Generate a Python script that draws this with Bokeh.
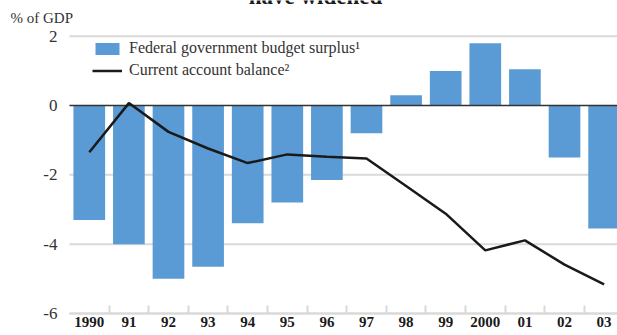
from bokeh.plotting import figure
from bokeh.models import Range1d, FixedTicker, Label, Legend, LegendItem
from bokeh.embed import file_html
from bokeh.resources import INLINE

years = ["1990", "91", "92", "93", "94", "95", "96", "97", "98", "99", "2000", "01", "02", "03"]
budget_surplus = [-3.3, -4.0, -5.0, -4.65, -3.4, -2.8, -2.15, -0.8, 0.3, 1.0, 1.8, 1.05, -1.5, -3.55]
current_account = [-1.35, 0.07, -0.76, -1.24, -1.66, -1.41, -1.48, -1.53, -2.32, -3.12, -4.18, -3.89, -4.59, -5.16]
y_ticks = [2, 0, -2, -4, -6]
y_labels = ["2", "0", "-2", "-4", "-6"]
grid_ticks = [2, -2, -4, -6]

SERIF = "Liberation Serif"
x = list(range(len(years)))

# frame covers the whole page; axes sit at fixed data locations inside it
X0, X1 = -2.242, 13.338      # x-range (slot width ~39.6 px, first slot starts at 69 px)
Y0, Y1 = -6.636, 3.031       # y-range (~34.6 px per unit)
PLOT_LEFT = -0.5             # left edge of the plotting area
PLOT_BOTTOM = -6             # bottom edge of the plotting area

p = figure(width=617, height=335, output_backend="svg", toolbar_location=None,
           x_range=Range1d(X0, X1), y_range=Range1d(Y0, Y1),
           min_border_left=0, min_border_right=0, min_border_top=0, min_border_bottom=0)
p.outline_line_color = None
p.background_fill_color = "white"
p.border_fill_color = "white"
p.grid.visible = False

# horizontal gridlines
p.segment(x0=PLOT_LEFT, x1=X1, y0=grid_ticks, y1=grid_ticks, line_color="#d9d9d9", line_width=2)

bars = p.vbar(x=x, top=budget_surplus, bottom=0, width=0.8, color="#5B9BD5", line_color=None)

# zero line
p.segment(x0=[PLOT_LEFT], x1=[X1], y0=[0], y1=[0], line_color="#333333", line_width=1.5)

line = p.line(x=x, y=current_account, line_color="#1a1a1a", line_width=2.5)

# y axis
ya = p.yaxis[0]
ya.fixed_location = PLOT_LEFT
ya.ticker = FixedTicker(ticks=y_ticks)
ya.major_label_overrides = {t: l for t, l in zip(y_ticks, y_labels)}
ya.axis_line_color = None
ya.major_tick_line_color = None
ya.minor_tick_line_color = None
ya.major_tick_in = 0
ya.major_tick_out = 0
ya.major_label_text_font = SERIF
ya.major_label_text_font_size = "17px"
ya.major_label_text_color = "#333333"
ya.major_label_standoff = 12

# x axis
xa = p.xaxis[0]
xa.fixed_location = PLOT_BOTTOM
xa.bounds = (PLOT_LEFT, X1)
xa.ticker = FixedTicker(ticks=x, minor_ticks=[i + 0.5 for i in range(len(years) - 1)])
xa.major_label_overrides = {i: years[i] for i in x}
xa.axis_line_color = "#d9d9d9"
xa.axis_line_width = 2
xa.major_tick_line_color = None
xa.major_tick_in = 0
xa.major_tick_out = 0
xa.minor_tick_in = 8
xa.minor_tick_out = 0
xa.minor_tick_line_color = "#d9d9d9"
xa.minor_tick_line_width = 2
xa.major_label_text_font = SERIF
xa.major_label_text_font_style = "bold"
xa.major_label_text_font_size = "15px"
xa.major_label_text_color = "#1a1a1a"
xa.major_label_standoff = 4

# legend
legend = Legend(items=[
    LegendItem(label="Federal government budget surplus\u00b9", renderers=[bars]),
    LegendItem(label="Current account balance\u00b2", renderers=[line]),
], location=(92, 256))
legend.background_fill_alpha = 0
legend.border_line_color = None
legend.padding = 0
legend.margin = 0
legend.spacing = 4
legend.glyph_width = 30
legend.glyph_height = 15
legend.label_standoff = 7
legend.label_height = 15
legend.label_text_font = SERIF
legend.label_text_font_size = "16px"
legend.label_text_color = "#333333"
p.add_layout(legend)

# title (cut off at the top of the page) and unit label
p.add_layout(Label(x=5.71, y=3.14, text="have widened", text_align="center",
                   text_baseline="alphabetic", text_font=SERIF, text_font_style="bold",
                   text_font_size="23px", text_color="#1a1a1a"))
p.add_layout(Label(x=-1.99, y=2.54, text="% of GDP", text_align="left",
                   text_baseline="middle", text_font=SERIF,
                   text_font_size="15px", text_color="#333333"))

open("out.html", "w").write(file_html(p, INLINE))
